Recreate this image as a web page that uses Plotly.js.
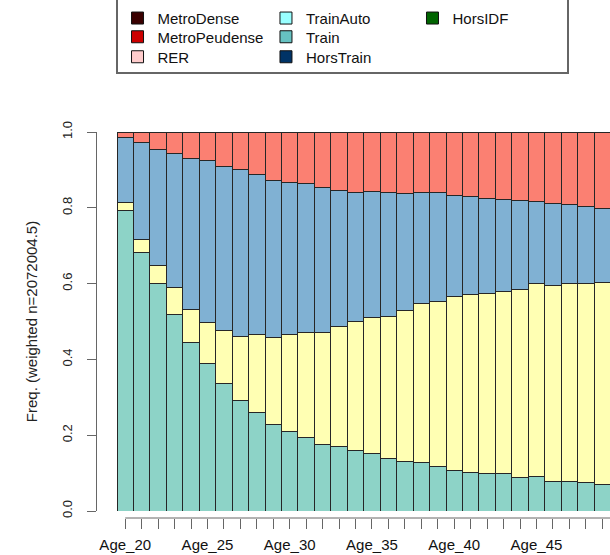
<!DOCTYPE html>
<html>
<head>
<meta charset="utf-8">
<script src="https://cdn.plot.ly/plotly-3.0.1.min.js"></script>
<style>html,body{margin:0;padding:0;background:#fff;overflow:hidden}</style>
</head>
<body>
<div id="chart" style="width:610px;height:555px"></div>
<script>
// Categories (ages) visible in the chart
var ages = ["Age_20","Age_21","Age_22","Age_23","Age_24","Age_25","Age_26","Age_27","Age_28","Age_29",
            "Age_30","Age_31","Age_32","Age_33","Age_34","Age_35","Age_36","Age_37","Age_38","Age_39",
            "Age_40","Age_41","Age_42","Age_43","Age_44","Age_45","Age_46","Age_47","Age_48","Age_49"];

// Stacked state frequencies, bottom to top
var tealVals   = [0.792,0.683,0.601,0.519,0.445,0.389,0.337,0.291,0.260,0.227,
                  0.209,0.195,0.176,0.169,0.160,0.153,0.138,0.131,0.128,0.118,
                  0.107,0.102,0.098,0.098,0.089,0.092,0.078,0.078,0.074,0.069];
var yellowVals = [0.023,0.033,0.047,0.071,0.086,0.109,0.138,0.169,0.205,0.230,
                  0.256,0.277,0.296,0.319,0.340,0.358,0.376,0.399,0.419,0.434,
                  0.460,0.468,0.475,0.482,0.496,0.507,0.518,0.523,0.527,0.534];
var blueVals   = [0.171,0.257,0.307,0.353,0.400,0.426,0.434,0.442,0.424,0.414,
                  0.401,0.392,0.382,0.358,0.341,0.333,0.327,0.308,0.294,0.289,
                  0.266,0.260,0.252,0.242,0.235,0.218,0.216,0.208,0.203,0.195];
var salmonVals = [0.014,0.027,0.045,0.057,0.069,0.076,0.091,0.098,0.111,0.129,
                  0.134,0.136,0.146,0.154,0.159,0.156,0.159,0.162,0.159,0.159,
                  0.167,0.170,0.175,0.178,0.180,0.183,0.188,0.191,0.196,0.202];

// Legend entries (as shown in the legend box)
var legendNames  = ["MetroDense","MetroPeudense","RER","TrainAuto","Train","HorsTrain","HorsIDF"];
var legendColors = ["#3a0000","#cc0000","#ffcccc","#99ffff","#66c2c2","#003366","#006400"];

// y axis ticks
var yTickVals = [0,0.2,0.4,0.6,0.8,1.0];
var yTickText = ["0.0","0.2","0.4","0.6","0.8","1.0"];
var xTickText = ages.map(function(a,i){ return i % 5 === 0 ? a : ""; });

var barLine = {color:"#262626", width:1};
function stack(name, vals, color){
  return {type:"bar", name:name, x:ages, y:vals, showlegend:false,
          marker:{color:color, line:barLine}, hoverinfo:"x+y+name"};
}
var traces = [
  stack("MetroDense", tealVals, "#8DD3C7"),
  stack("MetroPeudense", yellowVals, "#FFFFB3"),
  stack("RER", blueVals, "#80B1D3"),
  stack("TrainAuto", salmonVals, "#FB8072")
];

// legend-only traces
var legPos = [
  [0.0400,1.2946],[0.0400,1.2461],[0.0400,1.1943],
  [0.3294,1.2946],[0.3294,1.2461],[0.3294,1.1943],
  [0.6150,1.2946]
];
var layout = {
  width:610, height:555,
  margin:{l:97, r:0, t:132, b:37, pad:0},
  paper_bgcolor:"#fff", plot_bgcolor:"#fff",
  font:{family:"Liberation Sans, Arial, sans-serif", color:"#111", size:15},
  barmode:"stack", bargap:0,
  xaxis:{type:"category", range:[-1.716, 29.47], anchor:"free", position:0,
         tickmode:"array", tickvals:ages, ticktext:xTickText,
         ticks:"outside", ticklen:10, tickwidth:1, tickcolor:"#666",
         showline:false, showgrid:false, zeroline:false,
         tickfont:{size:15, color:"#111"}, ticklabelstandoff:3, automargin:false},
  yaxis:{domain:[7/386,1], range:[0,1], tickmode:"array", tickvals:yTickVals, ticktext:yTickText,
         tickangle:-90, ticks:"outside", ticklen:9, tickwidth:1, tickcolor:"#666",
         showline:true, linecolor:"#666", linewidth:1, showgrid:false, zeroline:false,
         tickfont:{size:13, color:"#222"}, ticklabelstandoff:10, automargin:false,
         title:{text:"Freq. (weighted n=2072004.5)", font:{size:15, color:"#222"}, standoff:18}},
  shapes:[
    {type:"line", xref:"x", yref:"paper", x0:0, x1:40, y0:0, y1:0, line:{color:"#666", width:1}},
    {type:"rect", xref:"paper", yref:"paper", x0:(117-97)/513, x1:(568-97)/513, y0:(518-73)/386, y1:(518+10)/386,
     line:{color:"#666", width:2}, fillcolor:"rgba(0,0,0,0)"}
  ],
  showlegend:true
};
legendNames.forEach(function(n,i){
  var key = i === 0 ? "legend" : "legend" + (i+1);
  traces.push({type:"bar", name:n, x:[ages[0]], y:[null], legend:key, showlegend:true,
               marker:{color:legendColors[i], line:{color:"#111", width:1}}, hoverinfo:"skip"});
  layout[key] = {x:legPos[i][0], y:legPos[i][1], xanchor:"left", yanchor:"middle",
                 bgcolor:"rgba(0,0,0,0)", borderwidth:0, font:{size:15, color:"#111"}};
});

Plotly.newPlot("chart", traces, layout, {displayModeBar:false, staticPlot:true});
</script>
</body>
</html>
